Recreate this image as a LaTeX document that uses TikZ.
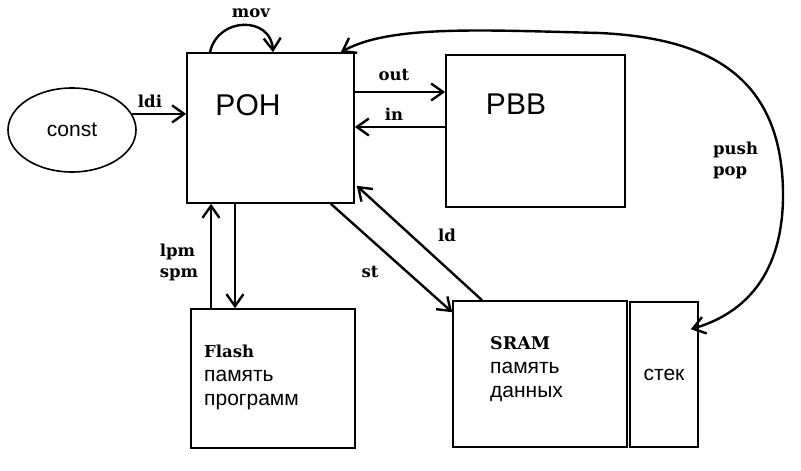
\documentclass[tikz,border=0pt]{standalone}
\usepackage{fontspec}
\setmainfont{DejaVu Serif}
\setsansfont{Liberation Sans}
\usetikzlibrary{arrows.meta, shapes.geometric}

\begin{document}
\begin{tikzpicture}[
    x=1pt, y=-1pt,
    block/.style={draw, line width=1.6pt, inner sep=0pt},
    big/.style={font=\sffamily\fontsize{30}{36}\selectfont},
    txt/.style={font=\sffamily\fontsize{21}{24}\selectfont, inner sep=0pt},
    cmd/.style={font=\bfseries\fontsize{16.5}{21}\selectfont, inner sep=0pt, align=left},
    link/.style={-{Straight Barb[length=12pt, width=17pt]}, line width=2.4pt},
    both/.style={{Straight Barb[length=12pt, width=17pt]}-{Straight Barb[length=12pt, width=17pt]}, line width=2.4pt}
]
\useasboundingbox (0,0) rectangle (801,471);

% blocks
\node[block, ellipse, minimum width=128pt, minimum height=84pt, txt] (const) at (72,130) {const};
\node[block, minimum width=167pt, minimum height=150pt] (poh) at (270.5,128) {};
\node[block, minimum width=179pt, minimum height=152pt] (pbb) at (535.5,131) {};
\node[block, minimum width=164pt, minimum height=139pt] (flash) at (273,378.5) {};
\node[block, minimum width=174pt, minimum height=146pt] (sram) at (540,374) {};
\node[block, minimum width=68pt, minimum height=145pt, txt] (stack) at (664,374.5) {стек};

% block texts
\node[big] (pohtext) at (248,105) {POH};
\node[big] (pbbtext) at (516,104) {PBB};
\node[txt, anchor=north west, align=left] (flashtext) at (204,345)
    {{\rmfamily\bfseries\fontsize{16.5}{24}\selectfont Flash}\\память\\программ};
\node[txt, anchor=north west, align=left] (sramtext) at (490,336)
    {{\rmfamily\bfseries\fontsize{17.5}{24}\selectfont SRAM}\\память\\данных};

% connectors
\draw[link] (const.15) -- (const.15 -| poh.west);
\draw[link] ([xshift=-60.5pt]poh.north) .. controls +(8,-36) and +(-2,-36) .. ([xshift=2.5pt]poh.north);
\draw[link] ([yshift=36pt]poh.east) -- ([yshift=39pt]pbb.west);
\draw[link] ([yshift=4pt]pbb.west) -- ([yshift=1pt]poh.east);
\draw[link] ([xshift=-62pt]flash.north) -- ([xshift=-59.5pt]poh.south);
\draw[link] ([xshift=-35.5pt]poh.south) -- ([xshift=-38pt]flash.north);
\draw[link] ([xshift=-24pt]poh.south east) -- ([yshift=-12pt]sram.north west);
\draw[link] ([xshift=-58pt]sram.north) -- ([xshift=2pt, yshift=18pt]poh.south east);
\draw[both] ([xshift=-14pt]poh.north east) .. controls (390,25) and (480,30) .. (600,33)
    .. controls (700,38) and (785,70) .. (783,200)
    .. controls (781,280) and (740,315) .. ([xshift=-8pt, yshift=-28pt]stack.north east);

% labels
\node[cmd] (lblldi) at (150,101) {ldi};
\node[cmd] (lblmov) at (251,13) {mov};
\node[cmd] (lblout) at (394,75) {out};
\node[cmd] (lblin) at (394,114) {in};
\node[cmd] (lbllpm) at (179,262) {lpm\\spm};
\node[cmd] (lblst) at (370,272) {st};
\node[cmd] (lblld) at (447,235) {ld};
\node[cmd, anchor=west] (lblpush) at (713,160) {push\\pop};

\end{tikzpicture}
\end{document}
